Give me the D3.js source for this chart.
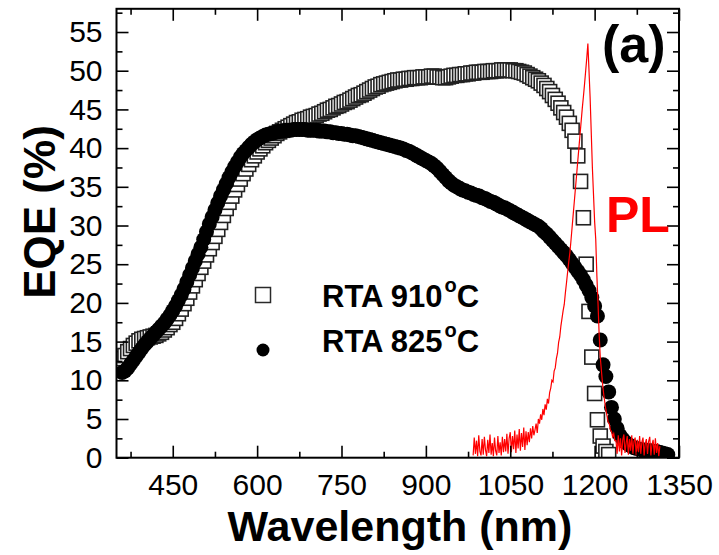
<!DOCTYPE html>
<html>
<head>
<meta charset="utf-8">
<script src="https://cdn.jsdelivr.net/npm/d3@7/dist/d3.min.js"></script>
<style>
  html, body { margin: 0; padding: 0; background: #fff; }
  svg { display: block; }
  text { font-family: Arial, "Liberation Sans", Helvetica, sans-serif; }
</style>
</head>
<body>
<svg id="chart" width="719" height="555"></svg>
<script>
// EQE spectra, sampled every 5 nm from 360 nm
const eqeStart = 360;
const eqeStep = 5;
const eqe910 = [
  12.8, 13.2, 13.7, 14.1, 14.5, 14.8, 15.1, 15.3,
  15.4, 15.5, 15.6, 15.7, 15.8, 16.0, 16.2, 16.5, 16.8, 17.2,
  17.5, 18.0, 18.6, 19.2, 19.9, 20.6, 21.4, 22.2, 23.0, 23.8,
  24.6, 25.4, 26.2, 27.0, 27.8, 28.6, 29.5, 30.4, 31.3, 32.2,
  33.0, 33.8, 34.6, 35.3, 36.0, 36.7, 37.3, 37.9, 38.5, 39.0,
  39.5, 39.9, 40.3, 40.7, 41.0, 41.3, 41.6, 41.9, 42.1, 42.3,
  42.5, 42.7, 42.9, 43.1, 43.3, 43.4, 43.6, 43.7, 43.8, 44.0,
  44.1, 44.2, 44.4, 44.5, 44.7, 44.9, 45.0, 45.2, 45.4, 45.5,
  45.7, 45.9, 46.0, 46.2, 46.4, 46.6, 46.8, 46.9, 47.1, 47.3,
  47.5, 47.7, 47.9, 48.0, 48.2, 48.3, 48.4, 48.5, 48.6, 48.7,
  48.8, 48.8, 48.9, 48.9, 49.0, 49.0, 49.1, 49.1, 49.1, 49.2,
  49.2, 49.2, 49.3, 49.3, 49.2, 49.2, 49.1, 49.1, 49.2, 49.3,
  49.4, 49.4, 49.5, 49.5, 49.6, 49.6, 49.7, 49.7, 49.8, 49.8,
  49.8, 49.9, 49.9, 49.9, 50.0, 50.0, 50.0, 50.1, 50.1, 50.1,
  50.1, 50.0, 50.0, 49.9, 49.8, 49.7, 49.5, 49.3, 49.1, 48.9,
  48.7, 48.4, 48.1, 47.7, 47.3, 46.8, 46.3, 45.8, 45.2, 44.6,
  44.0, 43.2, 42.3, 40.9, 39.0, 35.7, 31.0, 25.0, 18.9, 13.0,
  8.3, 4.9, 2.8, 1.5, 0.8, 0.4
];
const eqe825 = [
  11.0, 11.2, 11.6, 12.1, 12.6, 13.1, 13.6, 14.1,
  14.6, 15.0, 15.4, 15.8, 16.2, 16.6, 17.0, 17.4, 17.9, 18.4,
  19.0, 19.6, 20.3, 21.0, 21.8, 22.7, 23.6, 24.5, 25.4, 26.3,
  27.2, 28.2, 29.2, 30.2, 31.1, 32.0, 32.9, 33.8, 34.6, 35.4,
  36.2, 36.9, 37.6, 38.2, 38.8, 39.3, 39.7, 40.1, 40.5, 40.8,
  41.1, 41.3, 41.5, 41.7, 41.8, 41.9, 42.0, 42.1, 42.2, 42.2,
  42.3, 42.3, 42.3, 42.4, 42.4, 42.4, 42.4, 42.4, 42.3, 42.3,
  42.3, 42.3, 42.2, 42.2, 42.2, 42.1, 42.1, 42.0, 42.0, 41.9,
  41.9, 41.8, 41.8, 41.7, 41.6, 41.6, 41.5, 41.4, 41.3, 41.2,
  41.1, 41.0, 40.9, 40.8, 40.7, 40.6, 40.5, 40.4, 40.3, 40.2,
  40.1, 40.0, 39.9, 39.7, 39.6, 39.4, 39.2, 39.0, 38.8, 38.6,
  38.4, 38.2, 38.0, 37.7, 37.4, 37.0, 36.6, 36.2, 35.8, 35.5,
  35.2, 35.0, 34.8, 34.6, 34.5, 34.3, 34.2, 34.0, 33.9, 33.8,
  33.6, 33.5, 33.3, 33.1, 33.0, 32.8, 32.6, 32.4, 32.3, 32.1,
  31.9, 31.7, 31.5, 31.3, 31.1, 30.9, 30.7, 30.5, 30.3, 30.1,
  29.9, 29.6, 29.2, 28.9, 28.5, 28.1, 27.7, 27.3, 26.9, 26.5,
  26.1, 25.6, 25.1, 24.6, 24.1, 23.6, 23.0, 22.3, 21.6, 20.7,
  19.6, 18.3, 15.2, 12.0, 10.5, 8.5, 6.5, 5.0, 3.8, 2.9,
  2.4, 2.0, 1.7, 1.5, 1.3, 1.2, 1.1, 1.0, 1.0, 0.9,
  0.9, 0.8, 0.8, 0.7, 0.6, 0.5, 0.4
];

// Photoluminescence trace (scaled to the EQE axis), every 2 nm from 984 nm
const plStart = 984;
const plStep = 2;
const plValues = [
  0.3, 2.6, 0.5, 2.2, 0.2, 2.9, 0.8, 0.3, 2.4, 0.4,
  2.7, 1.0, 0.2, 2.3, 0.6, 3.0, 0.4, 1.9, 0.2, 2.6,
  0.9, 0.3, 2.8, 0.6, 2.0, 0.3, 2.7, 0.7, 2.4,
  0.8, 3.1, 0.5, 2.5, 3.3, 0.7, 2.8, 1.1, 3.5, 0.6,
  3.0, 1.2, 3.7, 0.9, 3.2, 1.4, 3.9, 1.0, 3.4, 1.6,
  3.3, 2.0, 3.8, 2.5, 4.1, 2.9, 3.6, 4.4, 3.2, 5.0,
  4.4, 5.6, 4.9, 6.3, 5.5, 6.9, 6.2, 7.6, 7.0, 8.4,
  9.0, 10.0, 9.8, 11.2, 11.6, 12.8, 13.5, 14.9, 15.6, 17.0,
  18.0, 19.0, 19.8, 21.3, 22.6, 24.0, 25.3, 26.5,
  28.1, 29.8, 31.5, 33.2, 34.9, 36.6, 38.3, 40.0, 41.7, 43.4,
  45.1, 46.6, 48.2, 49.9, 51.6, 53.5,
  50.0, 46.5, 42.0, 37.5, 34.0, 30.5, 28.2, 23.5, 20.0, 16.0,
  13.0, 11.3, 9.6, 8.3, 7.2, 6.2, 5.4, 4.6, 4.4, 3.6,
  3.4, 2.7, 3.1, 2.2,
  2.2, 0.5, 2.9, 0.8, 2.5, 0.3, 2.3, 3.0, 0.6, 1.9,
  2.8, 0.4, 2.4, 0.9, 2.9, 0.5, 2.1, 2.6, 0.3, 2.3,
  0.7, 2.8, 0.5, 2.0, 2.6, 0.3, 1.8, 2.4, 0.5, 2.1,
  2.7, 0.3, 1.7, 2.3, 0.4, 2.5, 0.6, 1.9, 0.2, 1.5
];

const xMajorTicks = [450, 600, 750, 900, 1050, 1200, 1350];
const xMinorTicks = [375, 525, 675, 825, 975, 1125, 1275];
const yMajorTicks = [0, 5, 10, 15, 20, 25, 30, 35, 40, 45, 50, 55];
const yMinorTicks = [2.5, 7.5, 12.5, 17.5, 22.5, 27.5, 32.5, 37.5, 42.5, 47.5, 52.5, 57.5];

const legendItems = ["RTA 910", "RTA 825"];

// ---- layout ----
const svg = d3.select("#chart");
const plot = { left: 116.5, right: 679, top: 8.8, bottom: 457.7 };

const x = d3.scaleLinear().domain([350, 1350]).range([plot.left, plot.right]);
const y = d3.scaleLinear().domain([0, 58]).range([plot.bottom, plot.top]);

const toPoints = (start, step, vals) => vals.map((v, i) => ({ w: start + i * step, v }));
const s910 = toPoints(eqeStart, eqeStep, eqe910);
const s825 = toPoints(eqeStart, eqeStep, eqe825);
const pl = toPoints(plStart, plStep, plValues);

svg.append("defs").append("clipPath").attr("id", "plotClip")
  .append("rect")
  .attr("x", plot.left).attr("y", plot.top)
  .attr("width", plot.right - plot.left).attr("height", plot.bottom - plot.top);

const data = svg.append("g").attr("clip-path", "url(#plotClip)");

// RTA 910 °C: open squares
const sq = 14;
data.append("g").selectAll("rect").data(s910).join("rect")
  .attr("x", d => x(d.w) - sq / 2)
  .attr("y", d => y(d.v) - sq / 2)
  .attr("width", sq).attr("height", sq)
  .attr("fill", "#fff")
  .attr("stroke", "#222")
  .attr("stroke-width", 1.6);

// RTA 825 °C: filled circles
data.append("g").selectAll("circle").data(s825).join("circle")
  .attr("cx", d => x(d.w))
  .attr("cy", d => y(d.v))
  .attr("r", 7.5)
  .attr("fill", "#000");

// PL line
data.append("path").datum(pl)
  .attr("fill", "none")
  .attr("stroke", "#ff0000")
  .attr("stroke-width", 1.2)
  .attr("d", d3.line().x(d => x(d.w)).y(d => y(d.v)));

// ---- axes ----
const tickFont = 30;
function styleAxis(g) {
  g.select(".domain").remove();
  g.selectAll(".tick line").attr("stroke", "#000").attr("stroke-width", 1.6);
  g.selectAll("text").attr("font-size", tickFont).attr("fill", "#000")
    .attr("font-family", "Arial, 'Liberation Sans', sans-serif");
}
function ticksOnly(g) {
  styleAxis(g);
  g.selectAll("text").remove();
}

svg.append("g").attr("transform", `translate(0,${plot.bottom})`)
  .call(d3.axisBottom(x).tickValues(xMajorTicks).tickSize(-12).tickPadding(16).tickFormat(d3.format("d")))
  .call(styleAxis);
svg.append("g").attr("transform", `translate(0,${plot.bottom})`)
  .call(d3.axisBottom(x).tickValues(xMinorTicks).tickSize(-6))
  .call(ticksOnly);
svg.append("g").attr("transform", `translate(0,${plot.top})`)
  .call(d3.axisTop(x).tickValues(xMajorTicks).tickSize(-12))
  .call(ticksOnly);
svg.append("g").attr("transform", `translate(0,${plot.top})`)
  .call(d3.axisTop(x).tickValues(xMinorTicks).tickSize(-6))
  .call(ticksOnly);

svg.append("g").attr("transform", `translate(${plot.left},0)`)
  .call(d3.axisLeft(y).tickValues(yMajorTicks).tickSize(-12).tickPadding(14).tickFormat(d3.format("d")))
  .call(styleAxis);
svg.append("g").attr("transform", `translate(${plot.left},0)`)
  .call(d3.axisLeft(y).tickValues(yMinorTicks).tickSize(-6))
  .call(ticksOnly);
svg.append("g").attr("transform", `translate(${plot.right},0)`)
  .call(d3.axisRight(y).tickValues(yMajorTicks).tickSize(-12))
  .call(ticksOnly);
svg.append("g").attr("transform", `translate(${plot.right},0)`)
  .call(d3.axisRight(y).tickValues(yMinorTicks).tickSize(-6))
  .call(ticksOnly);

// frame
svg.append("rect")
  .attr("x", plot.left).attr("y", plot.top)
  .attr("width", plot.right - plot.left).attr("height", plot.bottom - plot.top)
  .attr("fill", "none").attr("stroke", "#000").attr("stroke-width", 2);

// ---- titles ----
svg.append("text")
  .attr("x", 400)
  .attr("y", 541)
  .attr("text-anchor", "middle")
  .attr("font-size", 43).attr("font-weight", "bold")
  .text("Wavelength (nm)");

svg.append("text")
  .attr("transform", "translate(55,212) rotate(-90)")
  .attr("text-anchor", "middle")
  .attr("font-size", 44).attr("font-weight", "bold")
  .text("EQE (%)");

svg.append("text")
  .attr("x", 602).attr("y", 62)
  .attr("font-size", 52).attr("font-weight", "bold")
  .text("(a)");

svg.append("text")
  .attr("x", 606).attr("y", 232)
  .attr("font-size", 50).attr("font-weight", "bold")
  .attr("fill", "#ff0000")
  .text("PL");

// ---- legend ----
const legend = svg.append("g");
legend.append("rect")
  .attr("x", 263 - 7.5).attr("y", 295 - 7.5)
  .attr("width", 15).attr("height", 15)
  .attr("fill", "#fff").attr("stroke", "#2a2a2a").attr("stroke-width", 1.5);
legend.append("circle")
  .attr("cx", 263).attr("cy", 350).attr("r", 6.5).attr("fill", "#000");

[307, 352].forEach((base, i) => {
  const t = legend.append("text")
    .attr("x", 322).attr("y", base)
    .attr("font-size", 31).attr("font-weight", "bold");
  t.append("tspan").text(legendItems[i]);
  t.append("tspan").attr("font-size", 20).attr("dy", -15).attr("dx", 2).text("o");
  t.append("tspan").attr("dy", 15).text("C");
});
</script>
</body>
</html>
